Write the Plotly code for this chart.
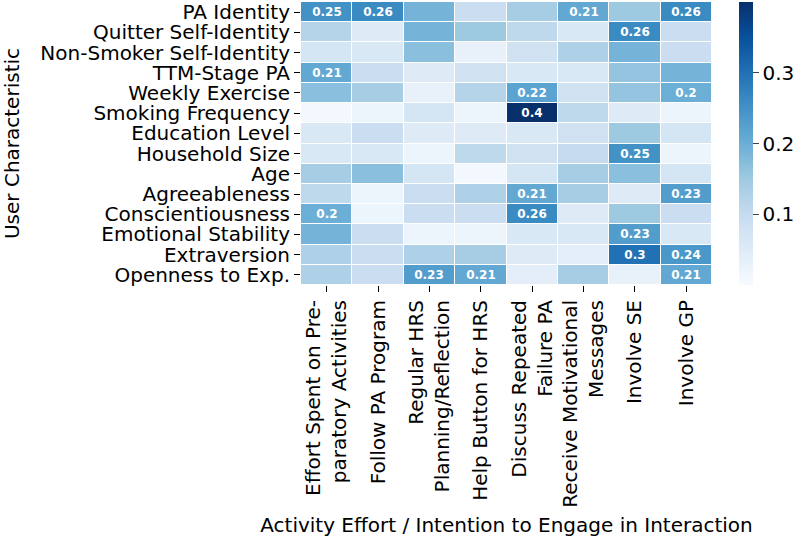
import plotly.graph_objects as go

rows = ["PA Identity", "Quitter Self-Identity", "Non-Smoker Self-Identity", "TTM-Stage PA",
        "Weekly Exercise", "Smoking Frequency", "Education Level", "Household Size", "Age",
        "Agreeableness", "Conscientiousness", "Emotional Stability", "Extraversion",
        "Openness to Exp."]
cols = ["Effort Spent on Pre-<br>paratory Activities", "Follow PA Program",
        "Regular HRS<br>Planning/Reflection", "Help Button for HRS",
        "Discuss Repeated<br>Failure PA", "Receive Motivational<br>Messages",
        "Involve SE", "Involve GP"]

effort      = [0.25, 0.12, 0.07, 0.21, 0.17, 0.01, 0.06, 0.06, 0.14, 0.11, 0.20, 0.19, 0.13, 0.13]
follow      = [0.26, 0.05, 0.06, 0.09, 0.14, 0.02, 0.09, 0.06, 0.17, 0.02, 0.02, 0.09, 0.09, 0.09]
regular_hrs = [0.19, 0.19, 0.17, 0.05, 0.03, 0.07, 0.05, 0.02, 0.07, 0.09, 0.09, 0.02, 0.13, 0.23]
help_btn    = [0.09, 0.15, 0.03, 0.08, 0.12, 0.02, 0.05, 0.11, 0.01, 0.13, 0.09, 0.02, 0.14, 0.21]
discuss     = [0.14, 0.11, 0.08, 0.06, 0.22, 0.40, 0.06, 0.08, 0.07, 0.21, 0.26, 0.06, 0.05, 0.04]
receive     = [0.21, 0.06, 0.13, 0.06, 0.08, 0.11, 0.08, 0.10, 0.14, 0.14, 0.05, 0.06, 0.04, 0.14]
involve_se  = [0.15, 0.26, 0.19, 0.16, 0.16, 0.05, 0.15, 0.25, 0.17, 0.05, 0.15, 0.23, 0.30, 0.03]
involve_gp  = [0.26, 0.09, 0.09, 0.19, 0.20, 0.02, 0.07, 0.02, 0.07, 0.23, 0.09, 0.06, 0.24, 0.21]

series = [effort, follow, regular_hrs, help_btn, discuss, receive, involve_se, involve_gp]
z = [[s[i] for s in series] for i in range(len(rows))]
text = [[(str(round(v, 2)) if v >= 0.2 else "") for v in r] for r in z]

blues = [[0.0, "#f7fbff"], [0.125, "#deebf7"], [0.25, "#c6dbef"], [0.375, "#9ecae1"],
         [0.5, "#6baed6"], [0.625, "#4292c6"], [0.75, "#2171b5"], [0.875, "#08519c"],
         [1.0, "#08306b"]]

FONT = "DejaVu Sans"
fig = go.Figure(go.Heatmap(
    z=z, x=cols, y=rows, text=text, texttemplate="%{text}",
    textfont=dict(family=FONT, size=12, color="white", weight="bold"),
    colorscale=blues, zmin=0.0, zmax=0.4, xgap=1, ygap=1,
    colorbar=dict(thickness=14, len=1, lenmode="fraction", y=0.5, yanchor="middle",
                  x=1.0657, xanchor="left", xpad=0, ypad=0, outlinewidth=0,
                  tickvals=[0.1, 0.2, 0.3], ticks="outside", ticklen=6,
                  tickfont=dict(family=FONT, size=20, color="black")),
))
fig.update_layout(
    width=800, height=543, plot_bgcolor="white", paper_bgcolor="white",
    margin=dict(l=301, r=88, t=2, b=258, autoexpand=False),
    font=dict(family=FONT, color="black"),
)
fig.update_yaxes(autorange="reversed", ticks="outside", ticklen=6, tickcolor="black",
                 tickmode="array", tickvals=rows, ticktext=rows,
                 tickfont=dict(size=20), showgrid=False, automargin=False,
                 title=dict(text="User Characteristic", font=dict(size=20), standoff=16))
fig.update_xaxes(tickangle=-90, ticks="outside", ticklen=6, tickcolor="black",
                 tickmode="array", tickvals=cols, ticktext=cols,
                 tickfont=dict(size=20), showgrid=False, automargin=False,
                 title=dict(text="Activity Effort / Intention to Engage in Interaction",
                            font=dict(size=20), standoff=11))
fig.write_html("out.html", config={"displayModeBar": False},
               post_script="document.body.style.margin='0';document.body.style.padding='0';")
